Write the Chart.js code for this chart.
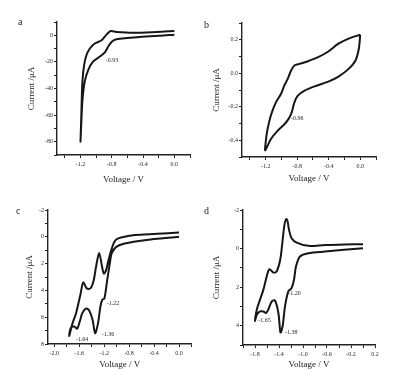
<!DOCTYPE html>
<html lang="en">
<head>
<meta charset="UTF-8">
<title>Cyclic voltammograms a-d</title>
<script src="https://cdn.jsdelivr.net/npm/chart.js"></script>
<style>
  body { margin: 0; background: #fff; }
  #wrap { position: relative; width: 402px; height: 375px; }
  canvas { position: absolute; }
  .tag { position: absolute; font: 10px "Liberation Serif", serif; line-height: 1; color: #1a1a1a; }
</style>
</head>
<body>
<div id="wrap">
  <canvas id="chartA" width="201" height="187" style="left:0;top:0"></canvas>
  <canvas id="chartB" width="201" height="187" style="left:201px;top:0"></canvas>
  <canvas id="chartC" width="201" height="188" style="left:0;top:187px"></canvas>
  <canvas id="chartD" width="201" height="188" style="left:201px;top:187px"></canvas>
  <div class="tag" style="left:18px;top:17px">a</div>
  <div class="tag" style="left:204px;top:20px">b</div>
  <div class="tag" style="left:16px;top:206px">c</div>
  <div class="tag" style="left:204px;top:206px">d</div>
</div>

<script>
// panel a
const aVolt = [0.0, -0.2, -0.44, -0.6, -0.74, -0.8, -0.846, -0.888, -0.953, -1.04, -1.1, -1.145, -1.175, -1.19, -1.2,
               -1.19, -1.183, -1.175, -1.153, -1.123, -1.08, -1.017, -0.93, -0.867, -0.815, -0.738, -0.525, -0.226, 0.0];
const aCurr = [0.5, -0.4, -1.2, -2.0, -3.0, -4.9, -8.6, -12.8, -16, -19.8, -26, -34.6, -49, -66.7, -80,
               -62, -46.9, -34.6, -22.2, -14.8, -9.9, -6.2, -3.7, 0.5, 3.2, 2.5, 1.9, 2.5, 3.2];
const aPeakText = ['-0.93'];
const aPeakVolt = [-0.876];
const aPeakCurr = [-18.7];
const aXMajor = [-1.2, -0.8, -0.4, 0.0];
const aYMajor = [-80, -60, -40, -20, 0];

// panel b
const bVolt = [0.0, -0.147, -0.276, -0.405, -0.534, -0.663, -0.77, -0.835, -0.877, -0.92, -0.964, -1.006, -1.07, -1.135, -1.18, -1.2, -1.205,
               -1.135, -1.05, -0.942, -0.877, -0.835, -0.792, -0.706, -0.577, -0.405, -0.276, -0.147, -0.06, -0.018, 0.0];
const bCurr = [0.23, 0.207, 0.177, 0.13, 0.096, 0.072, 0.056, 0.046, 0.016, -0.034, -0.074, -0.124, -0.174, -0.254, -0.344, -0.414, -0.46,
               -0.394, -0.344, -0.294, -0.244, -0.174, -0.134, -0.104, -0.078, -0.05, -0.02, 0.026, 0.076, 0.146, 0.23];
const bPeakText = ['-0.96'];
const bPeakVolt = [-0.877];
const bPeakCurr = [-0.268];
const bXMajor = [-1.2, -0.8, -0.4, 0.0];
const bYMajor = [-0.4, -0.2, 0.0, 0.2];

// panel c
const cVolt = [0.0, -0.35, -0.71, -0.93, -1.006, -1.045, -1.087, -1.13, -1.17, -1.205, -1.235, -1.28, -1.33, -1.37, -1.42, -1.48, -1.535, -1.58, -1.65, -1.71, -1.76,
               -1.735, -1.68, -1.63, -1.59, -1.55, -1.49, -1.44, -1.385, -1.345, -1.3, -1.26, -1.23, -1.196, -1.15, -1.11, -1.08, -1.006, -0.87, -0.55, 0.0];
const cCurr = [-0.33, -0.22, -0.13, 0.05, 0.2, 0.45, 1.0, 1.74, 2.5, 2.75, 2.2, 1.2, 2.24, 3.3, 3.85, 3.85, 3.4, 4.3, 5.7, 6.5, 7.4,
               6.8, 6.7, 6.85, 6.3, 5.7, 5.35, 5.5, 6.2, 7.2, 6.5, 5.2, 4.7, 4.6, 3.2, 2.0, 1.24, 0.75, 0.5, 0.25, 0.0];
const cPeakText = ['-1.22', '-1.36', '-1.64'];
const cPeakVolt = [-1.159, -1.24, -1.654];
const cPeakCurr = [4.97, 7.28, 7.63];
const cXMajor = [-2.0, -1.6, -1.2, -0.8, -0.4, 0.0];
const cYMajor = [-2, 0, 2, 4, 6, 8];

// panel d
const dVolt = [0.0, -0.3, -0.633, -0.91, -1.105, -1.19, -1.233, -1.26, -1.28, -1.31, -1.345, -1.38, -1.44, -1.495, -1.56, -1.605, -1.66, -1.717, -1.77, -1.8,
               -1.77, -1.717, -1.66, -1.617, -1.58, -1.52, -1.467, -1.41, -1.375, -1.34, -1.3, -1.245, -1.19, -1.15, -1.117, -1.05, -0.91, -0.633, 0.0];
const dCurr = [-0.23, -0.21, -0.19, -0.14, -0.31, -0.54, -0.97, -1.45, -1.53, -1.22, -0.28, 0.58, 1.19, 1.24, 1.07, 1.45, 2.13, 2.65, 3.17, 3.75,
               3.43, 3.26, 3.26, 3.34, 3.17, 2.74, 2.69, 3.34, 4.35, 4.03, 3.0, 2.22, 2.05, 1.62, 0.93, 0.41, 0.24, 0.155, -0.02];
const dPeakText = ['-1.20', '-1.38', '-1.65'];
const dPeakVolt = [-1.245, -1.3, -1.745];
const dPeakCurr = [2.34, 4.37, 3.74];
const dXMajor = [-1.8, -1.4, -1.0, -0.6, -0.2, 0.2];
const dYMajor = [-2, 0, 2, 4];

const serif = 'Liberation Serif';

// writes the peak potentials next to the curve
const peakLabels = {
    id: 'peakLabels',
    afterDatasetsDraw(chart, args, opts) {
        const ctx = chart.ctx;
        const x = chart.scales.x, y = chart.scales.y;
        ctx.save();
        ctx.font = '6px "' + serif + '"';
        ctx.fillStyle = '#2a2a2a';
        ctx.textBaseline = 'middle';
        opts.text.forEach((t, i) => {
            ctx.fillText(t, x.getPixelForValue(opts.volt[i]), y.getPixelForValue(opts.curr[i]));
        });
        ctx.restore();
    }
};

function isMajor(v, list) {
    return list.some(m => Math.abs(m - v) < 1e-6);
}

function buildChart(id, volt, curr, p) {
    return new Chart(document.getElementById(id), {
        type: 'scatter',
        data: {
            datasets: [{
                data: volt.map((v, i) => ({ x: v, y: curr[i] })),
                showLine: true,
                borderColor: '#161616',
                borderWidth: 2,
                pointRadius: 0,
                tension: 0.3,
                fill: false
            }]
        },
        options: {
            responsive: false,
            animation: false,
            devicePixelRatio: 1,
            layout: { padding: p.pad },
            plugins: {
                legend: { display: false },
                tooltip: { enabled: false },
                peakLabels: { text: p.text, volt: p.volt, curr: p.curr }
            },
            scales: {
                x: {
                    type: 'linear', position: 'bottom',
                    min: p.xMin, max: p.xMax,
                    afterFit: s => { s.height = p.xH; },
                    grid: { drawOnChartArea: false, tickLength: 3, color: '#222' },
                    border: { color: '#222', width: 1.4 },
                    ticks: {
                        stepSize: p.xStep, includeBounds: false, autoSkip: false, maxRotation: 0, padding: 3,
                        font: { family: serif, size: 6 }, color: '#2a2a2a',
                        callback: v => isMajor(v, p.xMajor) ? v.toFixed(1) : ''
                    },
                    title: {
                        display: true, text: 'Voltage / V', color: '#1a1a1a',
                        font: { family: serif, size: 9 }, padding: { top: 0, bottom: p.xTitlePad }
                    }
                },
                y: {
                    type: 'linear', position: 'left',
                    min: p.yMin, max: p.yMax, reverse: p.reverse,
                    afterFit: s => { s.width = p.yW; },
                    grid: { drawOnChartArea: false, tickLength: 3, color: '#222' },
                    border: { color: '#222', width: 1.4 },
                    ticks: {
                        stepSize: p.yStep, includeBounds: false, autoSkip: false, padding: 1,
                        font: { family: serif, size: 6 }, color: '#2a2a2a',
                        callback: v => isMajor(v, p.yMajor) ? v.toFixed(p.yDigits) : ''
                    },
                    title: {
                        display: true, text: 'Current /\u03bcA', color: '#1a1a1a',
                        font: { family: serif, size: 9 }, padding: { top: p.yTitlePad, bottom: 0 }
                    }
                }
            }
        },
        plugins: [peakLabels]
    });
}

buildChart('chartA', aVolt, aCurr, {
    pad: { left: 0, top: 22, right: 11, bottom: 0 }, xH: 32, yW: 57,
    xMin: -1.5, xMax: 0.2, xStep: 0.2, xMajor: aXMajor, xTitlePad: 1.6,
    yMin: -90, yMax: 10, yStep: 10, yMajor: aYMajor, yDigits: 0, reverse: false, yTitlePad: 26,
    text: aPeakText, volt: aPeakVolt, curr: aPeakCurr
});

buildChart('chartB', bVolt, bCurr, {
    pad: { left: 0, top: 23, right: 26, bottom: 0 }, xH: 30, yW: 41,
    xMin: -1.5, xMax: 0.2, xStep: 0.2, xMajor: bXMajor, xTitlePad: 3.3,
    yMin: -0.5, yMax: 0.3, yStep: 0.1, yMajor: bYMajor, yDigits: 1, reverse: false, yTitlePad: 10.3,
    text: bPeakText, volt: bPeakVolt, curr: bPeakCurr
});

buildChart('chartC', cVolt, cCurr, {
    pad: { left: 0, top: 23, right: 9.5, bottom: 0 }, xH: 31, yW: 48,
    xMin: -2.1, xMax: 0.2, xStep: 0.2, xMajor: cXMajor, xTitlePad: 4.6,
    yMin: -2, yMax: 8, yStep: 1, yMajor: cYMajor, yDigits: 0, reverse: true, yTitlePad: 24.6,
    text: cPeakText, volt: cPeakVolt, curr: cPeakCurr
});

buildChart('chartD', dVolt, dCurr, {
    pad: { left: 0, top: 23, right: 27, bottom: 0 }, xH: 30, yW: 42,
    xMin: -2.0, xMax: 0.2, xStep: 0.2, xMajor: dXMajor, xTitlePad: 4.6,
    yMin: -2, yMax: 5, yStep: 1, yMajor: dYMajor, yDigits: 0, reverse: true, yTitlePad: 10.3,
    text: dPeakText, volt: dPeakVolt, curr: dPeakCurr
});
</script>
</body>
</html>
